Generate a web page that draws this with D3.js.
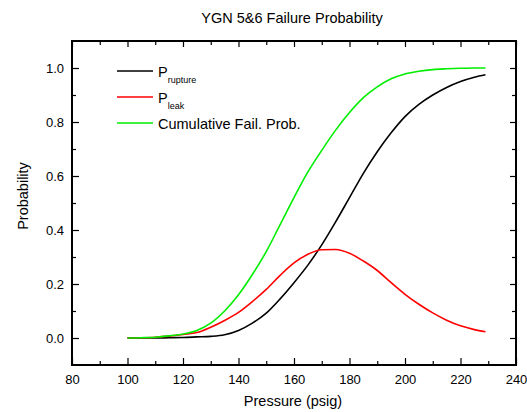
<!DOCTYPE html>
<html>
<head>
<meta charset="utf-8">
<script src="https://cdn.jsdelivr.net/npm/d3@7"></script>
<style>
  body { margin: 0; background: #fff; }
  text { font-family: "Liberation Sans", Arial, sans-serif; fill: #000; }
</style>
</head>
<body>
<div id="chart"></div>
<script>
// pressure points (psig)
var pressure = [100, 105, 110, 115, 120, 125, 130, 135, 140, 145, 150, 155, 160, 165,
  170, 175, 180, 185, 190, 195, 200, 205, 210, 215, 220, 225, 229];

var pRupture = [0.000, 0.000, 0.000, 0.001, 0.002, 0.004, 0.006, 0.012, 0.028, 0.055,
  0.092, 0.145, 0.205, 0.270, 0.345, 0.430, 0.520, 0.610, 0.690, 0.760, 0.820, 0.865,
  0.900, 0.928, 0.950, 0.966, 0.975];
var pLeak = [0.000, 0.001, 0.003, 0.007, 0.013, 0.020, 0.040, 0.065, 0.095, 0.135,
  0.180, 0.232, 0.278, 0.310, 0.327, 0.328, 0.314, 0.285, 0.250, 0.205, 0.162, 0.125,
  0.093, 0.066, 0.045, 0.031, 0.023];
var pCumulative = [0.000, 0.001, 0.003, 0.008, 0.015, 0.028, 0.055, 0.100, 0.160, 0.235,
  0.320, 0.420, 0.520, 0.615, 0.695, 0.770, 0.835, 0.890, 0.930, 0.960, 0.978, 0.988,
  0.994, 0.997, 0.999, 1.000, 1.000];

var xMajor = [80, 100, 120, 140, 160, 180, 200, 220, 240];
var xMinor = [90, 110, 130, 150, 170, 190, 210, 230];
var yMajor = [0, 0.2, 0.4, 0.6, 0.8, 1.0];
var yMinor = [0.1, 0.3, 0.5, 0.7, 0.9];

var svgWidth = 527, svgHeight = 412;
var margin = { top: 41, right: 11, bottom: 47, left: 72 };
var width = svgWidth - margin.left - margin.right;
var height = svgHeight - margin.top - margin.bottom;

var svg = d3.select("#chart").append("svg")
  .attr("width", svgWidth)
  .attr("height", svgHeight);

var g = svg.append("g")
  .attr("transform", `translate(${margin.left}, ${margin.top})`);

var x = d3.scaleLinear().domain([80, 240]).range([0, width]);
var y = d3.scaleLinear().domain([-0.1, 1.1]).range([height, 0]);

// ticks point inward on all four sides
function styleAxis(sel) {
  sel.select(".domain").remove();
  sel.selectAll("line").attr("stroke", "#000").attr("stroke-width", 1.2);
  sel.selectAll("text").attr("font-size", "13px").attr("fill", "#000")
    .style("font-family", "'Liberation Sans', Arial, sans-serif");
}

g.append("g").attr("transform", `translate(0, ${height})`)
  .call(d3.axisBottom(x).tickValues(xMajor).tickSize(-7).tickPadding(10).tickFormat(d3.format("d")))
  .call(styleAxis);
g.append("g").attr("transform", `translate(0, ${height})`)
  .call(d3.axisBottom(x).tickValues(xMinor).tickSize(-4).tickFormat(""))
  .call(styleAxis);
g.append("g")
  .call(d3.axisTop(x).tickValues(xMajor).tickSize(-6).tickFormat(""))
  .call(styleAxis);
g.append("g")
  .call(d3.axisTop(x).tickValues(xMinor).tickSize(-4).tickFormat(""))
  .call(styleAxis);

g.append("g")
  .call(d3.axisLeft(y).tickValues(yMajor).tickSize(-7).tickPadding(8).tickFormat(d3.format(".1f")))
  .call(styleAxis);
g.append("g")
  .call(d3.axisLeft(y).tickValues(yMinor).tickSize(-4).tickFormat(""))
  .call(styleAxis);
g.append("g").attr("transform", `translate(${width}, 0)`)
  .call(d3.axisRight(y).tickValues(yMajor).tickSize(-6).tickFormat(""))
  .call(styleAxis);
g.append("g").attr("transform", `translate(${width}, 0)`)
  .call(d3.axisRight(y).tickValues(yMinor).tickSize(-4).tickFormat(""))
  .call(styleAxis);

// frame
g.append("rect")
  .attr("width", width).attr("height", height)
  .attr("fill", "none").attr("stroke", "#000").attr("stroke-width", 2);

// curves
var series = [
  { values: pRupture, color: "#000000" },
  { values: pLeak, color: "#ff0000" },
  { values: pCumulative, color: "#00ee00" }
];

var line = d3.line()
  .x(d => x(d[0]))
  .y(d => y(d[1]))
  .curve(d3.curveMonotoneX);

series.forEach(function(s) {
  g.append("path")
    .datum(pressure.map((p, i) => [p, s.values[i]]))
    .attr("fill", "none")
    .attr("stroke", s.color)
    .attr("stroke-width", 1.6)
    .attr("d", line);
});

// legend
var legendItems = [
  { main: "P", sub: "rupture", color: "#000000" },
  { main: "P", sub: "leak", color: "#ff0000" },
  { main: "Cumulative Fail. Prob.", sub: "", color: "#00ee00" }
];
var legend = svg.append("g");
legendItems.forEach(function(item, i) {
  var ly = 71 + i * 26;
  legend.append("line")
    .attr("x1", 117).attr("x2", 153)
    .attr("y1", ly).attr("y2", ly)
    .attr("stroke", item.color).attr("stroke-width", 1.6);
  var t = legend.append("text")
    .attr("x", 158).attr("y", ly + 6)
    .attr("font-size", "14.5px");
  t.append("tspan").text(item.main);
  if (item.sub) {
    t.append("tspan").attr("dy", 6).attr("font-size", "9px").text(item.sub);
  }
});

// title and axis labels
svg.append("text")
  .attr("x", 292).attr("y", 23)
  .attr("text-anchor", "middle")
  .attr("font-size", "14.5px")
  .text("YGN 5&6 Failure Probability");

svg.append("text")
  .attr("x", 293).attr("y", 406)
  .attr("text-anchor", "middle")
  .attr("font-size", "14.5px")
  .text("Pressure (psig)");

svg.append("text")
  .attr("transform", "translate(28, 196) rotate(-90)")
  .attr("text-anchor", "middle")
  .attr("font-size", "14.5px")
  .text("Probability");
</script>
</body>
</html>
